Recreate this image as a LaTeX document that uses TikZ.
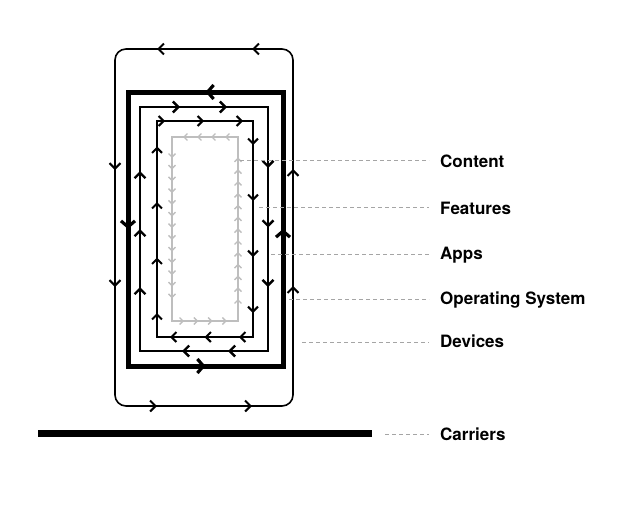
\documentclass[tikz,border=0pt]{standalone}
\usepackage{fontspec}
\setmainfont{TeX Gyre Heros}
\usetikzlibrary{arrows.meta,decorations.markings}
\definecolor{contentgray}{RGB}{190,190,190}
\definecolor{leadergray}{RGB}{165,165,165}

\begin{document}
\begin{tikzpicture}[x=1pt,y=-1pt,
    flow/.style n args={3}{postaction={decorate},
      decoration={markings, mark=between positions #1 and #2 step #3 with {\arrow{>}}}},
    midflow/.style={postaction={decorate},
      decoration={markings, mark=at position 0.5 with {\arrow{>}}}},
    devicebox/.style={line width=1.6pt, rounded corners=11pt,
      >={Straight Barb[length=5.5pt,width=11pt,line width=2pt]}},
    osbox/.style={line width=5pt,
      >={Straight Barb[length=6pt,width=14pt,line width=3.2pt]}},
    appbox/.style={line width=2.8pt,
      >={Straight Barb[length=5.5pt,width=11pt,line width=2.4pt]}},
    featurebox/.style={line width=1.8pt,
      >={Straight Barb[length=5pt,width=10pt,line width=2pt]}},
    contentbox/.style={line width=1.6pt, contentgray,
      >={Straight Barb[length=3.5pt,width=7pt,line width=1.4pt]}},
    carrierline/.style={line width=7pt},
    leader/.style={leadergray, line width=0.8pt, dash pattern=on 4pt off 3pt, shorten >=11pt},
    caption/.style={font=\bfseries\fontsize{17}{20}\selectfont, anchor=base west, inner sep=0pt}]
  \useasboundingbox (0,0) rectangle (624,506);

  % device (outer, rounded)
  \begin{scope}[devicebox]
    \draw (115,49) rectangle (293,406);
    \path[flow={41pt}{140pt}{95pt}] (293,49) -- (115,49);
    \path[flow={121pt}{242pt}{117pt}] (115,49) -- (115,406);
    \path[flow={42pt}{140pt}{95pt}] (115,406) -- (293,406);
    \path[flow={120pt}{240pt}{117pt}] (293,406) -- (293,49);
  \end{scope}

  % operating system
  \begin{scope}[osbox]
    \draw (128,92) rectangle (283,366);
    \path[midflow] (283,92) -- (128,92);
    \path[midflow] (128,92) -- (128,366);
    \path[midflow] (128,366) -- (283,366);
    \path[midflow] (283,366) -- (283,92);
  \end{scope}

  % apps
  \begin{scope}[appbox]
    \draw (140,107) rectangle (268,351);
    \path[flow={40pt}{90pt}{47pt}] (140,107) -- (268,107);
    \path[flow={61pt}{183pt}{59.5pt}] (268,107) -- (268,351);
    \path[flow={40pt}{90pt}{46pt}] (268,351) -- (140,351);
    \path[flow={64pt}{182pt}{58pt}] (140,351) -- (140,107);
  \end{scope}

  % features
  \begin{scope}[featurebox]
    \draw (157,121) rectangle (253,337);
    \path[flow={8pt}{90pt}{39pt}] (157,121) -- (253,121);
    \path[flow={24pt}{195pt}{56pt}] (253,121) -- (253,337);
    \path[flow={14pt}{86pt}{34.5pt}] (253,337) -- (157,337);
    \path[flow={24pt}{193pt}{55.5pt}] (157,337) -- (157,121);
  \end{scope}

  % content
  \begin{scope}[contentbox]
    \draw (172,137) rectangle (238,321);
    \path[flow={13pt}{57pt}{14pt}] (238,137) -- (172,137);
    \path[flow={21pt}{163pt}{11.7pt}] (172,137) -- (172,321);
    \path[flow={12pt}{57pt}{14.3pt}] (172,321) -- (238,321);
    \path[flow={22pt}{166pt}{11.8pt}] (238,321) -- (238,137);
  \end{scope}

  % carriers
  \coordinate (cl) at (38,433);
  \coordinate (cr) at (372,433);
  \draw[carrierline] (cl) -- (cr);

  % labels
  \node[caption] (content) at (440,167) {Content};
  \node[caption] (features) at (440,214) {Features};
  \node[caption] (apps) at (440,259) {Apps};
  \node[caption] (os) at (440,304) {Operating System};
  \node[caption] (devices) at (440,347) {Devices};
  \node[caption] (carriers) at (440,440) {Carriers};

  \coordinate (cont) at (240,160);
  \coordinate (feat) at (259,207);
  \coordinate (app) at (271,254);
  \coordinate (opsys) at (289,299);
  \coordinate (dev) at (302,342);
  \coordinate (carr) at (385,434);

  \draw[leader] (cont) -- (cont -| content.west);
  \draw[leader] (feat) -- (feat -| features.west);
  \draw[leader] (app) -- (app -| apps.west);
  \draw[leader] (opsys) -- (opsys -| os.west);
  \draw[leader] (dev) -- (dev -| devices.west);
  \draw[leader] (carr) -- (carr -| carriers.west);
\end{tikzpicture}
\end{document}
